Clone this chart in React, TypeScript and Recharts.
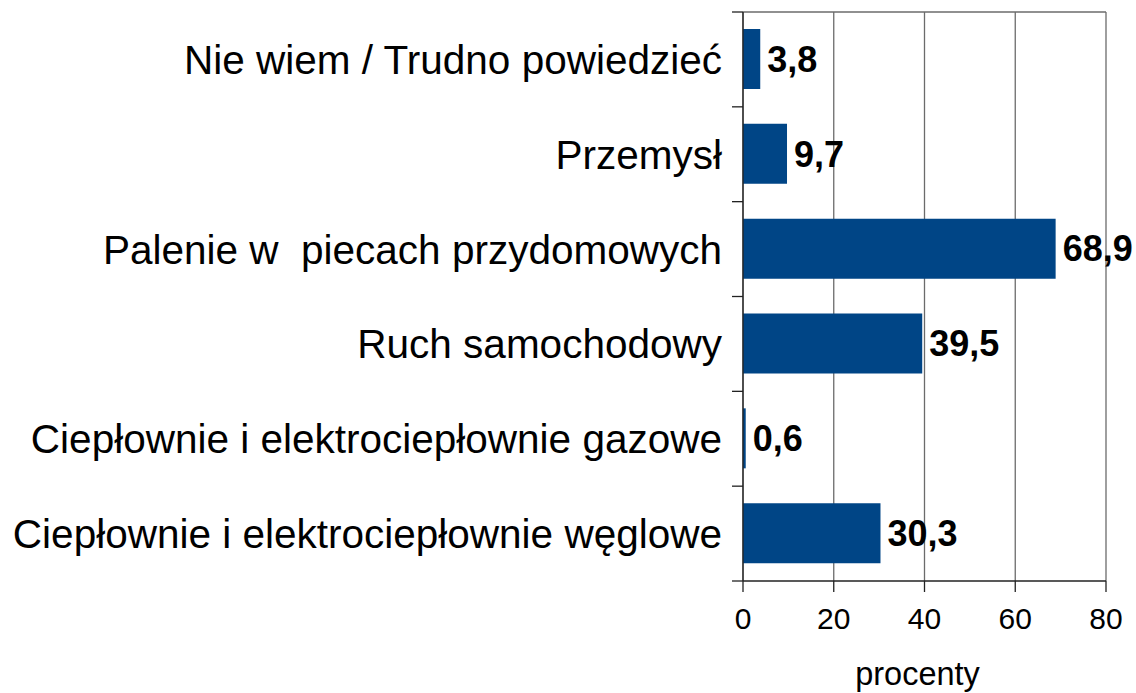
import React from 'react';
import { BarChart, Bar, XAxis, YAxis, CartesianGrid, LabelList } from 'recharts';

const categories = [
  'Nie wiem / Trudno powiedzieć',
  'Przemysł',
  'Palenie w  piecach przydomowych',
  'Ruch samochodowy',
  'Ciepłownie i elektrociepłownie gazowe',
  'Ciepłownie i elektrociepłownie węglowe',
];
const values = [3.8, 9.7, 68.9, 39.5, 0.6, 30.3];
const xTicks = [0, 20, 40, 60, 80];

const data = categories.map((name, i) => ({ name, value: values[i] }));

const W = 1136;
const H = 693;
const M = { top: 12, right: 30, left: 0, bottom: 0 };
const Y_AXIS_W = 743;
const X_AXIS_H = 112;
const FONT = '"Liberation Sans", Arial, sans-serif';
const band = (H - M.top - M.bottom - X_AXIS_H) / categories.length;

const CategoryTick = (props: any) => {
  const { x, y, payload, index } = props;
  return (
    <g>
      <text
        x={x}
        y={y}
        dy="0.36em"
        textAnchor="end"
        fontSize={40.5}
        fontFamily={FONT}
        fill="#000"
        style={{ whiteSpace: 'pre' }}
      >
        {payload.value}
      </text>
      <line x1={x + 10} x2={x + 21} y1={y - band / 2} y2={y - band / 2} stroke="#222" strokeWidth={1.3} />
      {index === categories.length - 1 && (
        <line x1={x + 10} x2={x + 21} y1={y + band / 2} y2={y + band / 2} stroke="#222" strokeWidth={1.3} />
      )}
    </g>
  );
};

const fmt = (v: any) => String(v).replace('.', ',');

export default function App() {
  return (
    <div style={{ position: 'absolute', left: 0, top: 0, background: '#fff' }}>
      <BarChart width={W} height={H} data={data} layout="vertical" margin={M}>
        <CartesianGrid
          stroke="#6b6b6b"
          strokeWidth={1.3}
          horizontalCoordinatesGenerator={({ offset }: any) => [offset.top]}
        />
        <XAxis
          type="number"
          domain={[0, 80]}
          ticks={xTicks}
          height={X_AXIS_H}
          axisLine={{ stroke: '#222', strokeWidth: 1.3 }}
          tickLine={{ stroke: '#222', strokeWidth: 1.3 }}
          tickSize={11}
          tickMargin={16}
          tick={{ fontSize: 30, fill: '#000', fontFamily: FONT }}
          label={{ value: 'procenty', position: 'insideBottom', offset: 8, dx: -7, fontSize: 32.5, fill: '#000', fontFamily: FONT }}
        />
        <YAxis
          type="category"
          dataKey="name"
          width={Y_AXIS_W}
          axisLine={{ stroke: '#222', strokeWidth: 1.3 }}
          tickLine={false}
          tickSize={10}
          tickMargin={11}
          tick={<CategoryTick />}
          interval={0}
        />
        <Bar dataKey="value" fill="#004586" barSize={60} isAnimationActive={false}>
          <LabelList
            dataKey="value"
            position="right"
            offset={7}
            formatter={fmt}
            fontSize={36}
            fontWeight="bold"
            fill="#000"
            fontFamily={FONT}
          />
        </Bar>
      </BarChart>
    </div>
  );
}
